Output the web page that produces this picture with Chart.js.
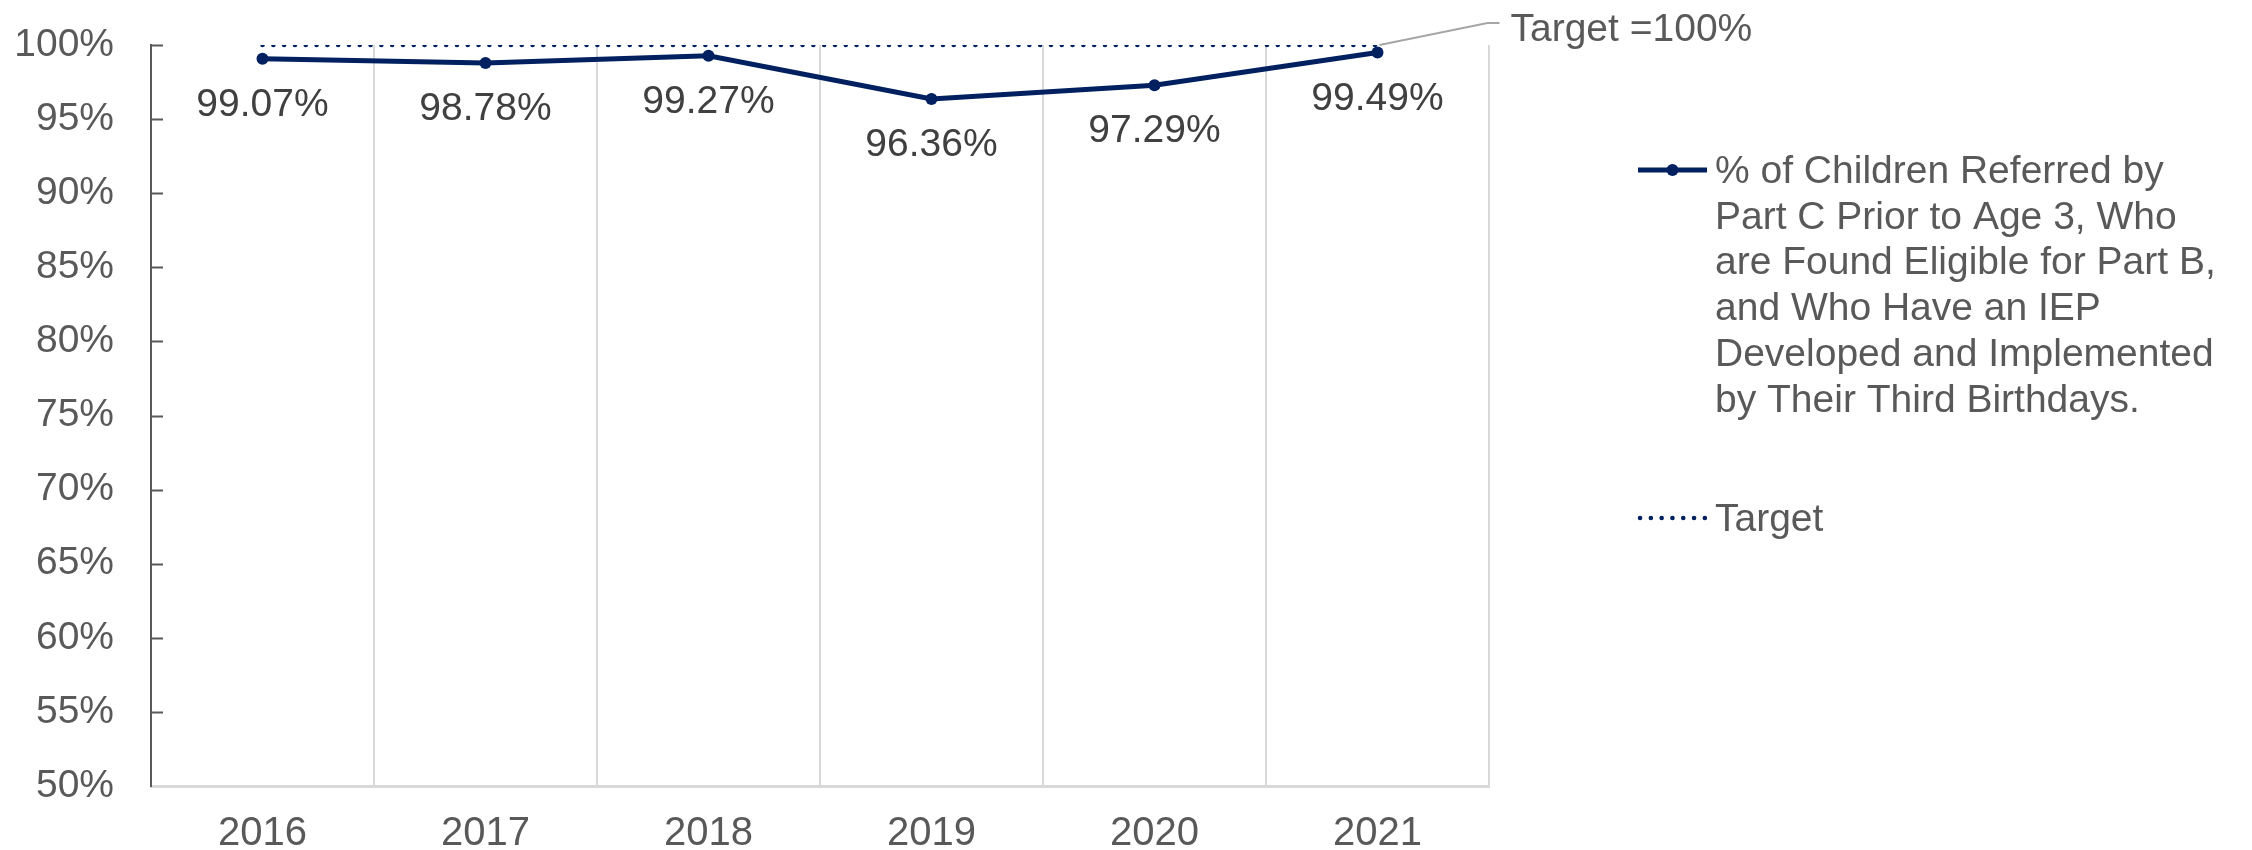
<!DOCTYPE html>
<html>
<head>
<meta charset="utf-8">
<title>Part C to Part B transition</title>
<script src="https://cdn.jsdelivr.net/npm/chart.js@4/dist/chart.umd.min.js"></script>
<style>
  html, body { margin: 0; padding: 0; background: #fff; }
  #wrap { position: relative; width: 2252px; height: 850px; }
</style>
</head>
<body>
<div id="wrap"><canvas id="chart"></canvas></div>
<script>
// Indicator values by year, plus the flat 100% target.
const YEARS = ["2016", "2017", "2018", "2019", "2020", "2021"];
const PERCENT = [99.07, 98.78, 99.27, 96.36, 97.29, 99.49];
const TARGET = [100, 100, 100, 100, 100, 100];
const SERIES_LABEL = [
  "% of Children Referred by",
  "Part C Prior to Age 3, Who",
  "are Found Eligible for Part B,",
  "and Who Have an IEP",
  "Developed and Implemented",
  "by Their Third Birthdays.",
];
const TARGET_LABEL = "Target";
const TARGET_NOTE = "Target =100%";

const NAVY = "#002060";
const GREY_TEXT = "#595959";
const FONT = "'Liberation Sans', Arial, sans-serif";
const DOTS = [0.1, 10.7];

// Value labels under each point, and the "Target =100%" callout with its leader line.
const labelsPlugin = {
  id: "labels",
  afterDatasetsDraw(chart) {
    const ctx = chart.ctx;
    ctx.save();
    ctx.font = `39px ${FONT}`;
    ctx.fillStyle = "#404040";
    ctx.textAlign = "center";
    ctx.textBaseline = "alphabetic";
    chart.getDatasetMeta(0).data.forEach((pt, i) => {
      ctx.fillText(PERCENT[i].toFixed(2) + "%", pt.x, pt.y + 57);
    });

    const tgt = chart.getDatasetMeta(1).data;
    const last = tgt[tgt.length - 1];
    ctx.strokeStyle = "#a6a6a6";
    ctx.lineWidth = 2;
    ctx.beginPath();
    ctx.moveTo(last.x + 2, last.y);
    ctx.lineTo(last.x + 110, last.y - 22);
    ctx.lineTo(last.x + 122, last.y - 22);
    ctx.stroke();
    ctx.fillStyle = GREY_TEXT;
    ctx.textAlign = "left";
    ctx.fillText(TARGET_NOTE, last.x + 133, last.y - 4);
    ctx.restore();
  },
};

// Short inward tick marks on the y axis (Excel style).
const yTicksPlugin = {
  id: "yTicks",
  afterDraw(chart) {
    const y = chart.scales.y, ctx = chart.ctx;
    ctx.save();
    ctx.strokeStyle = GREY_TEXT;
    ctx.lineWidth = 2;
    y.ticks.forEach((t) => {
      if (t.value === y.min) return;
      const py = Math.round(y.getPixelForValue(t.value)) + 0.5;
      ctx.beginPath();
      ctx.moveTo(y.right, py);
      ctx.lineTo(y.right + 12, py);
      ctx.stroke();
    });
    ctx.restore();
  },
};

// Legend on the right, with the long series name wrapped as in the original.
const legendPlugin = {
  id: "sideLegend",
  afterDraw(chart) {
    const ctx = chart.ctx;
    const x0 = 1638, x1 = 1707, tx = 1715;
    ctx.save();
    ctx.strokeStyle = NAVY;
    ctx.fillStyle = NAVY;
    ctx.lineWidth = 5;
    ctx.beginPath();
    ctx.moveTo(x0, 170);
    ctx.lineTo(x1, 170);
    ctx.stroke();
    ctx.beginPath();
    ctx.arc((x0 + x1) / 2, 170, 6, 0, Math.PI * 2);
    ctx.fill();

    ctx.lineWidth = 4.5;
    ctx.lineCap = "round";
    ctx.setLineDash(DOTS);
    ctx.beginPath();
    ctx.moveTo(x0 + 2, 518);
    ctx.lineTo(x1 - 2, 518);
    ctx.stroke();
    ctx.setLineDash([]);

    ctx.font = `39px ${FONT}`;
    ctx.fillStyle = GREY_TEXT;
    ctx.textAlign = "left";
    ctx.textBaseline = "alphabetic";
    SERIES_LABEL.forEach((line, i) => ctx.fillText(line, tx, 183 + i * 45.7));
    ctx.fillText(TARGET_LABEL, tx, 531);
    ctx.restore();
  },
};

new Chart(document.getElementById("chart"), {
  type: "line",
  data: {
    labels: YEARS,
    datasets: [
      {
        label: SERIES_LABEL.join(" "),
        data: PERCENT,
        borderColor: NAVY,
        backgroundColor: NAVY,
        borderWidth: 5,
        pointRadius: 6,
        pointBackgroundColor: NAVY,
        pointBorderWidth: 0,
        tension: 0,
      },
      {
        label: TARGET_LABEL,
        data: TARGET,
        borderColor: NAVY,
        borderWidth: 4.5,
        borderDash: DOTS,
        borderCapStyle: "round",
        pointRadius: 0,
        tension: 0,
      },
    ],
  },
  options: {
    responsive: true,
    maintainAspectRatio: false,
    animation: false,
    layout: { padding: { top: 45, right: 763, left: 0, bottom: 0 } },
    plugins: { legend: { display: false }, tooltip: { enabled: false } },
    scales: {
      x: {
        offset: true,
        grid: { offset: true, color: "#d9d9d9", lineWidth: 2, drawTicks: false },
        border: { color: "#d9d9d9", width: 3 },
        ticks: { color: GREY_TEXT, font: { family: FONT, size: 40 }, padding: 24 },
        afterFit: (s) => { s.height = 64; s.paddingLeft = 0; s.paddingRight = 0; },
      },
      y: {
        min: 50,
        max: 100,
        grid: { display: true, drawOnChartArea: false, drawTicks: false },
        border: { color: GREY_TEXT, width: 2 },
        ticks: {
          stepSize: 5,
          color: GREY_TEXT,
          font: { family: FONT, size: 39 },
          padding: 37,
          callback: (v) => v + "%",
        },
        afterFit: (s) => { s.width = 151; s.paddingTop = 0; s.paddingBottom = 0; },
      },
    },
  },
  plugins: [labelsPlugin, yTicksPlugin, legendPlugin],
});
</script>
</body>
</html>
